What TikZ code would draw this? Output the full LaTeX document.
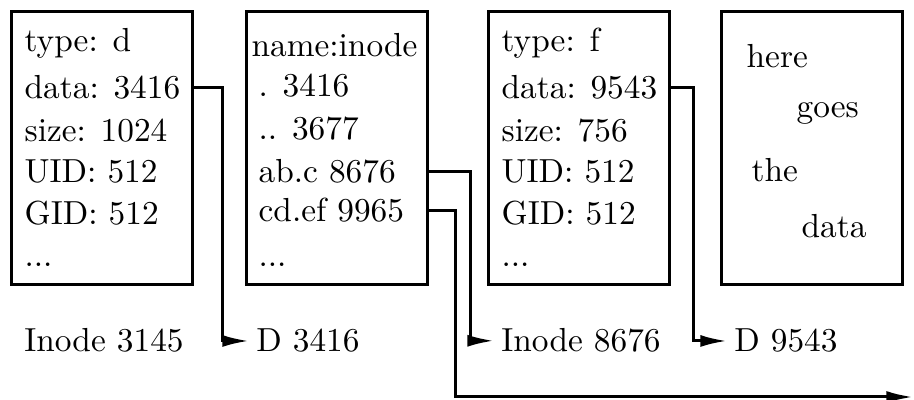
\documentclass[tikz,border=0pt]{standalone}
\usetikzlibrary{arrows.meta}
\begin{document}
\begin{tikzpicture}[x=0.3pt,y=-0.3pt,
  every node/.style={font=\fontsize{10}{12}\selectfont},
  blk/.style={draw, line width=0.9pt, minimum width=54.3pt, minimum height=81.9pt, inner sep=0pt},
  row/.style={anchor=base west, inner sep=0pt},
  lbl/.style={anchor=base west, inner sep=2pt},
  link/.style={line width=0.9pt, -{Latex[length=8pt,width=3.6pt]}}]
\useasboundingbox (0,0) rectangle (914,400);

% blocks
\node[blk] (box1) at (101.5,148.5) {};
\node[blk] (box2) at (336.5,148.5) {};
\node[blk] (box3) at (578.5,148.5) {};
\node[blk] (box4) at (811.5,148.5) {};

% directory inode
\node[row] (a1) at (24,52)  {type: d};
\node[row] (a2) at (24,99)  {data: 3416};
\node[row] (a3) at (24,142) {size: 1024};
\node[row] (a4) at (24,183) {UID: 512};
\node[row] (a5) at (24,225) {GID: 512};
\node[row] (a6) at (24,267) {...};

% directory data block
\node[row] (b1) at (251,57)  {name:inode};
\node[row] (b2) at (258,97)  {. 3416};
\node[row] (b3) at (258,140) {.. 3677};
\node[row] (b4) at (258,183) {ab.c 8676};
\node[row] (b5) at (258,222) {cd.ef 9965};
\node[row] (b6) at (258,267) {...};

% file inode
\node[row] (c1) at (501,52)  {type: f};
\node[row] (c2) at (501,99)  {data: 9543};
\node[row] (c3) at (501,142) {size: 756};
\node[row] (c4) at (501,183) {UID: 512};
\node[row] (c5) at (501,225) {GID: 512};
\node[row] (c6) at (501,267) {...};

% file data block
\node[row] (w1) at (746,68)  {here};
\node[row] (w2) at (796,118) {goes};
\node[row] (w3) at (751,182) {the};
\node[row] (w4) at (801,238) {data};

% captions
\node[lbl] (i3145) at (17,352)  {Inode 3145};
\node[lbl] (d3416) at (249,352) {D 3416};
\node[lbl] (i8676) at (494,352) {Inode 8676};
\node[lbl] (d9543) at (727,352) {D 9543};
\coordinate (far) at (913,397);

% pointers
\draw[link] (box1.east |- a2) -- ++(29,0) |- (d3416.west);
\draw[link] (box2.east |- b4) -- ++(42,0) |- (i8676.west);
\draw[link] (box2.east |- b5) -- ++(27,0) |- (far);
\draw[link] (box3.east |- c2) -- ++(23,0) |- (d9543.west);
\end{tikzpicture}
\end{document}
